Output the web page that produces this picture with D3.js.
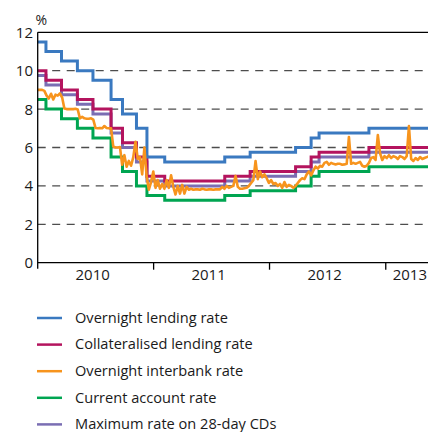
<!DOCTYPE html>
<html>
<head>
<meta charset="utf-8">
<script src="https://cdn.jsdelivr.net/npm/d3@7"></script>
<style>
  body { margin: 0; background: #fff; }
  svg { display: block; font-family: "Open Sans", "Noto Sans", sans-serif; }
</style>
</head>
<body>
<div id="chart"></div>
<script>
// Policy rate corridor: dates on which the rates changed, and the level from that date
const changeDates = ["2010-01-01", "2010-01-27", "2010-03-17", "2010-05-06", "2010-06-24", "2010-08-20",
  "2010-09-25", "2010-11-08", "2010-12-11", "2011-02-05", "2011-08-13", "2011-11-01",
  "2012-03-23", "2012-05-11", "2012-06-05", "2012-11-09"];
const endDate = "2013-05-14";

const overnightLending = [11.5, 11, 10.5, 10, 9.5, 8.5, 7.75, 7, 5.5, 5.25, 5.5, 5.75, 6, 6.5, 6.75, 7];
const collateralised   = [10, 9.5, 9, 8.5, 8, 7, 6.25, 5.5, 4.5, 4.25, 4.5, 4.75, 5, 5.5, 5.75, 6];
const currentAccount   = [8.5, 8, 7.5, 7, 6.5, 5.5, 4.75, 4, 3.5, 3.25, 3.5, 3.75, 4, 4.5, 4.75, 5];
const maxCD28          = [9.75, 9.25, 8.75, 8.25, 7.75, 6.75, 6, 5.25, 4.25, 4, 4.25, 4.5, 4.75, 5.25, 5.5, 5.75];

// Overnight interbank rate, weekly readings from 1 Jan 2010
const interbankStart = "2010-01-01";
const interbankWeekly = [
  9.0, 9.0, 9.0, 8.95, 8.7, 8.55, 8.8, 8.5, 8.75, 8.7, 8.82, 8.6, 8.03, 8.0, 8.0, 8.0, 8.0, 8.02, 7.98, 7.52,
  7.6, 7.52, 7.5, 7.5, 7.52, 7.45, 7.02, 7.0, 7.02, 7.0, 7.12, 7.02, 7.0, 7.0, 6.05, 6.0, 6.0, 6.02, 5.1, 5.6,
  5.0, 5.3, 5.05, 5.5, 6.3, 5.4, 5.5, 4.6, 6.0, 4.5, 3.8, 4.2, 4.75, 3.9, 4.3, 3.85, 4.1, 3.85, 4.3, 3.9,
  4.55, 3.95, 3.55, 4.0, 3.6, 4.05, 3.6, 3.95, 3.8, 3.85, 3.8, 3.82, 3.82, 3.8, 3.85, 3.82, 3.8, 3.82, 3.82, 3.8,
  3.82, 3.82, 3.82, 3.95, 3.85, 4.0, 3.9, 3.95, 4.0, 4.52, 3.95, 3.85, 3.85, 3.88, 3.9, 4.0, 4.15, 4.3, 5.3, 4.35,
  4.75, 4.45, 4.6, 4.4, 4.15, 4.3, 4.1, 4.15, 4.0, 4.1, 3.9, 4.2, 3.95, 4.05, 4.0, 3.9, 4.0, 4.15, 4.3, 4.4,
  4.35, 4.6, 4.75, 4.55, 4.8, 5.0, 4.9, 5.05, 5.0, 5.2, 5.25, 5.1, 5.2, 5.15, 5.12, 5.15, 5.15, 5.1, 5.12, 5.15,
  6.55, 5.15, 5.2, 5.15, 5.2, 5.25, 5.05, 5.0, 5.05, 5.2, 5.45, 5.5, 5.35, 6.65, 5.7, 5.35, 5.55, 5.45, 5.6, 5.45,
  5.55, 5.5, 5.4, 5.55, 5.5, 5.4, 5.55, 7.12, 5.4, 5.3, 5.45, 5.35, 5.5, 5.4, 5.45, 5.5, 5.55
];

const yTicks = [0, 2, 4, 6, 8, 10, 12];
const years = [2010, 2011, 2012, 2013];

const legendItems = [
  { name: "Overnight lending rate", color: "#3a79c0" },
  { name: "Collateralised lending rate", color: "#b4145e" },
  { name: "Overnight interbank rate", color: "#f7941d" },
  { name: "Current account rate", color: "#00a551" },
  { name: "Maximum rate on 28-day CDs", color: "#7a6eb3" }
];

const width = 428, height = 432;
const margin = { top: 32.3, left: 37.7, right: 0, bottom: 169.3 };

const parse = d3.timeParse("%Y-%m-%d");

const x = d3.scaleTime()
  .domain([parse(changeDates[0]), parse(endDate)])
  .range([margin.left, width - margin.right]);
const y = d3.scaleLinear()
  .domain([0, 12])
  .range([height - margin.bottom, margin.top]);

const svg = d3.select("#chart").append("svg")
  .attr("width", width)
  .attr("height", height);

svg.append("defs").append("clipPath").attr("id", "plot")
  .append("rect")
  .attr("x", margin.left).attr("y", 0)
  .attr("width", width - margin.left).attr("height", y(0));

// dashed gridlines
svg.append("g")
  .selectAll("line")
  .data(yTicks.filter(d => d > 0 && d < 12))
  .join("line")
  .attr("x1", margin.left).attr("x2", width)
  .attr("y1", d => y(d)).attr("y2", d => y(d))
  .attr("stroke", "#4d4d4d")
  .attr("stroke-width", 1.3)
  .attr("stroke-dasharray", "8,6.5");

// top frame line
svg.append("line")
  .attr("x1", margin.left).attr("x2", width)
  .attr("y1", y(12)).attr("y2", y(12))
  .attr("stroke", "#000").attr("stroke-width", 1.3);

// y tick labels
svg.append("g")
  .selectAll("text")
  .data(yTicks)
  .join("text")
  .attr("x", 33)
  .attr("y", d => y(d))
  .attr("dy", "0.36em")
  .attr("text-anchor", "end")
  .attr("font-size", 15)
  .attr("fill", "#1a1a1a")
  .text(d => d);

svg.append("text")
  .attr("x", 35.5).attr("y", 25)
  .attr("font-size", 14)
  .attr("fill", "#1a1a1a")
  .text("%");

// series
function stepSeries(values) {
  const pts = changeDates.map((d, i) => ({ date: parse(d), value: values[i] }));
  pts.push({ date: parse(endDate), value: values[values.length - 1] });
  return pts;
}

const stepLine = d3.line()
  .x(d => x(d.date))
  .y(d => y(d.value))
  .curve(d3.curveStepAfter);

const lines = svg.append("g").attr("clip-path", "url(#plot)");

const stepOrder = [
  { values: maxCD28, color: legendItems[4].color },
  { values: currentAccount, color: legendItems[3].color },
  { values: collateralised, color: legendItems[1].color },
  { values: overnightLending, color: legendItems[0].color }
];

stepOrder.forEach(s => {
  lines.append("path")
    .datum(stepSeries(s.values))
    .attr("fill", "none")
    .attr("stroke", s.color)
    .attr("stroke-width", 3)
    .attr("d", stepLine);
});

const start = parse(interbankStart);
const interbank = interbankWeekly.map((v, i) => ({ date: d3.timeDay.offset(start, i * 7), value: v }));

lines.append("path")
  .datum(interbank)
  .attr("fill", "none")
  .attr("stroke", legendItems[2].color)
  .attr("stroke-width", 2.6)
  .attr("stroke-linejoin", "round")
  .attr("d", d3.line().x(d => x(d.date)).y(d => y(d.value)));

// axes lines
svg.append("line")
  .attr("x1", margin.left).attr("x2", margin.left)
  .attr("y1", y(12)).attr("y2", y(0) + 6)
  .attr("stroke", "#000").attr("stroke-width", 1.3);
svg.append("line")
  .attr("x1", margin.left).attr("x2", width)
  .attr("y1", y(0)).attr("y2", y(0))
  .attr("stroke", "#000").attr("stroke-width", 1.3);

// year ticks and labels
const yearStarts = years.slice(1).map(yr => new Date(yr, 0, 1));
svg.append("g")
  .selectAll("line")
  .data(yearStarts)
  .join("line")
  .attr("x1", d => x(d)).attr("x2", d => x(d))
  .attr("y1", y(0)).attr("y2", y(0) + 7)
  .attr("stroke", "#000").attr("stroke-width", 1.3);

svg.append("g")
  .selectAll("text")
  .data(years)
  .join("text")
  .attr("x", yr => {
    const a = Math.max(x(new Date(yr, 0, 1)), margin.left);
    const b = Math.min(x(new Date(yr + 1, 0, 1)), width);
    return yr === 2013 ? (a + b) / 2 + 3 : (a + b) / 2 - 3;
  })
  .attr("y", 279.5)
  .attr("text-anchor", "middle")
  .attr("font-size", 15)
  .attr("fill", "#1a1a1a")
  .text(d => d);

// legend
const legend = svg.append("g")
  .selectAll("g")
  .data(legendItems)
  .join("g")
  .attr("transform", (d, i) => `translate(0, ${318 + i * 26.6})`);

legend.append("line")
  .attr("x1", 37).attr("x2", 62)
  .attr("stroke", d => d.color)
  .attr("stroke-width", 2.5);

legend.append("text")
  .attr("x", 75)
  .attr("dy", "0.33em")
  .attr("font-size", 14.6)
  .attr("fill", "#1a1a1a")
  .text(d => d.name);
</script>
</body>
</html>
